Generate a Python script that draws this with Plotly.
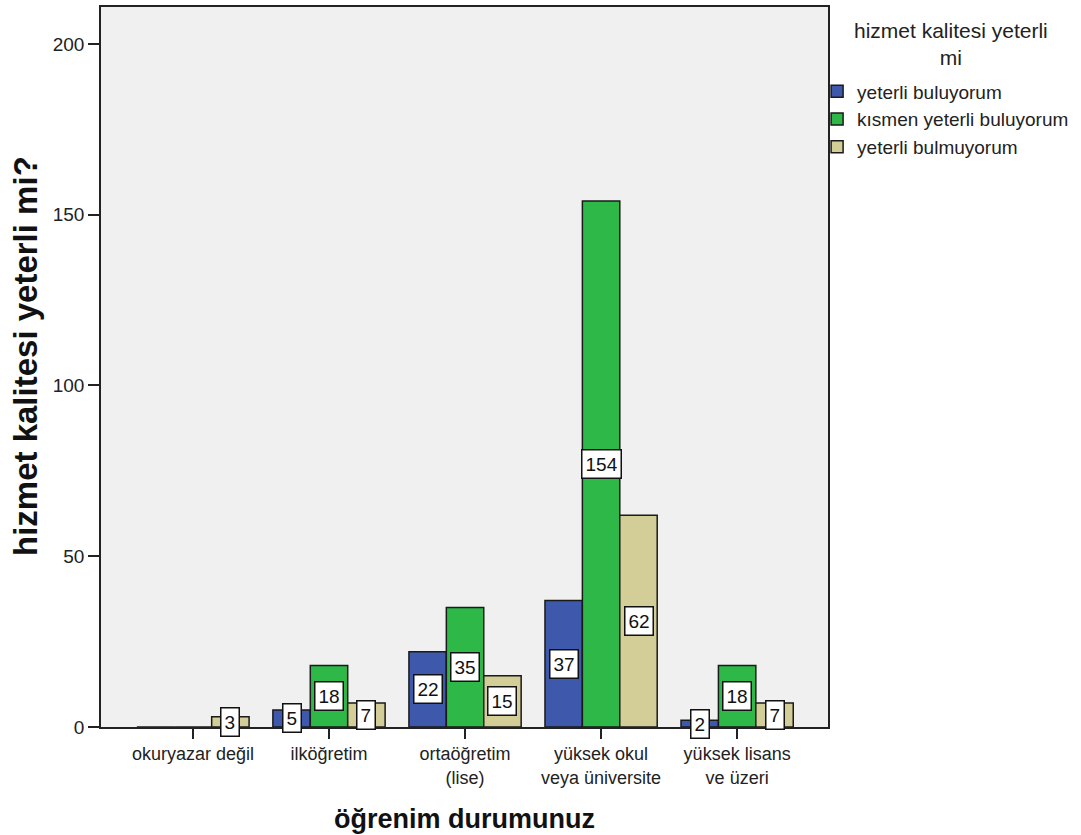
import plotly.graph_objects as go

# Education levels and counts per answer group
categories = [
    "okuryazar değil",
    "ilköğretim",
    "ortaöğretim<br>(lise)",
    "yüksek okul<br>veya üniversite",
    "yüksek lisans<br>ve üzeri",
]
series_names = ["yeterli buluyorum", "kısmen yeterli buluyorum", "yeterli bulmuyorum"]
yeterli = [0, 5, 22, 37, 2]
kismen = [0, 18, 35, 154, 18]
yetersiz = [3, 7, 15, 62, 7]
y_ticks = [0, 50, 100, 150, 200]
legend_heading = "hizmet kalitesi yeterli<br>mi"

series_values = [yeterli, kismen, yetersiz]
colors = ["#3E58AC", "#2EB848", "#D3CE97"]

FONT = "Liberation Sans, Arial, sans-serif"
W, H = 1081, 835
M = dict(l=101, r=253, t=5, b=108)
plot_w = W - M["l"] - M["r"]
plot_h = H - M["t"] - M["b"]


def px_x(px):
    """Horizontal page pixel -> paper coordinate."""
    return (px - M["l"]) / plot_w


def px_y(px):
    """Vertical page pixel (from top) -> paper coordinate."""
    return 1 - (px - M["t"]) / plot_h


BARGAP = 0.175
bar_w = (1 - BARGAP) / len(series_values)

fig = go.Figure()
for name, vals, col in zip(series_names, series_values, colors):
    fig.add_trace(go.Bar(
        x=list(range(len(categories))),
        y=vals,
        name=name,
        marker=dict(color=col, line=dict(color="#1a1a1a", width=1.5)),
    ))

# Boxed value labels centred halfway up each bar
annotations = []
for k, vals in enumerate(series_values):
    for i, v in enumerate(vals):
        if v == 0:
            continue
        annotations.append(dict(
            x=i + (k - 1) * bar_w, y=v / 2, xref="x", yref="y",
            text=str(v), showarrow=False,
            font=dict(family=FONT, size=19, color="#111"),
            bgcolor="white", bordercolor="#111", borderwidth=1.5, borderpad=3,
        ))

# Legend heading, centred over the legend entries
annotations.append(dict(
    x=px_x(951), y=px_y(42), xref="paper", yref="paper",
    xanchor="center", yanchor="middle", align="center",
    text=legend_heading, showarrow=False,
    font=dict(family=FONT, size=21, color="#222"),
))

# Vertical axis title
annotations.append(dict(
    x=px_x(25), y=px_y(355), xref="paper", yref="paper",
    xanchor="center", yanchor="middle", textangle=-90,
    text="<b>hizmet kalitesi yeterli mi?</b>", showarrow=False,
    font=dict(family=FONT, size=33, color="#111"),
))

fig.update_layout(
    width=W, height=H,
    margin=M,
    paper_bgcolor="white",
    plot_bgcolor="#F0F0F0",
    barmode="group",
    bargap=BARGAP,
    bargroupgap=0,
    font=dict(family=FONT, size=19, color="#222"),
    annotations=annotations,
    showlegend=True,
    legend=dict(
        x=0.985, xanchor="left", y=0.909, yanchor="top",
        font=dict(family=FONT, size=19, color="#222"),
        bgcolor="rgba(0,0,0,0)",
        tracegroupgap=0,
        itemwidth=30,
    ),
    xaxis=dict(
        range=[-0.676, 4.668],
        tickmode="array",
        tickvals=list(range(len(categories))),
        ticktext=categories,
        ticks="outside", ticklen=10, tickwidth=1.5, tickcolor="#222",
        showline=True, linecolor="#222", linewidth=1.5, mirror=True,
        showgrid=False, zeroline=False,
        tickfont=dict(family=FONT, size=18, color="#222"),
        title=dict(text="<b>öğrenim durumunuz</b>", font=dict(family=FONT, size=27, color="#111"), standoff=22),
    ),
    yaxis=dict(
        range=[0, 210.8],
        tickmode="array",
        tickvals=y_ticks,
        ticks="outside", ticklen=11, tickwidth=1.5, tickcolor="#222",
        showline=True, linecolor="#222", linewidth=1.5, mirror=True,
        showgrid=False, zeroline=False,
        tickfont=dict(family=FONT, size=19, color="#222"),
    ),
)

fig.write_html("out.html")
